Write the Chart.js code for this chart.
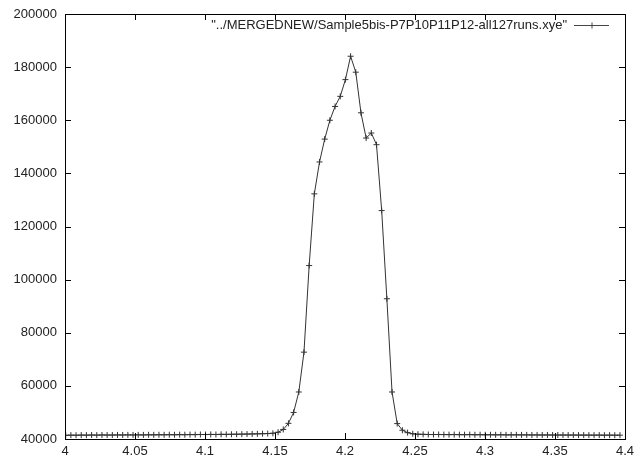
<!DOCTYPE html>
<html>
<head>
<meta charset="utf-8">
<script src="https://cdn.jsdelivr.net/npm/chart.js@4/dist/chart.umd.min.js"></script>
<style>
  html, body { margin: 0; padding: 0; background: #fff; }
  #wrap { width: 634px; height: 460px; }
</style>
</head>
<body>
<div id="wrap"><canvas id="chart-peak"></canvas></div>
<script>
const seriesName = '"../MERGEDNEW/Sample5bis-P7P10P11P12-all127runs.xye"';

// d-spacing (x)
const dValues = [
  4.0005, 4.0042, 4.0079, 4.0116, 4.0153, 4.0190, 4.0227, 4.0264, 4.0301, 4.0338,
  4.0375, 4.0412, 4.0449, 4.0486, 4.0523, 4.0560, 4.0597, 4.0634, 4.0671, 4.0708,
  4.0745, 4.0782, 4.0819, 4.0856, 4.0893, 4.0930, 4.0967, 4.1004, 4.1041, 4.1078,
  4.1115, 4.1152, 4.1189, 4.1226, 4.1263, 4.1300, 4.1337, 4.1374, 4.1411, 4.1448,
  4.1485, 4.1522, 4.1559, 4.1596, 4.1633, 4.1670, 4.1707, 4.1744, 4.1781, 4.1818,
  4.1855, 4.1892, 4.1929, 4.1966, 4.2003, 4.2040, 4.2077, 4.2114, 4.2151, 4.2188,
  4.2225, 4.2262, 4.2299, 4.2336, 4.2373, 4.2410, 4.2447, 4.2484, 4.2521, 4.2558,
  4.2595, 4.2632, 4.2669, 4.2706, 4.2743, 4.2780, 4.2817, 4.2854, 4.2891, 4.2928,
  4.2965, 4.3002, 4.3039, 4.3076, 4.3113, 4.3150, 4.3187, 4.3224, 4.3261, 4.3298,
  4.3335, 4.3372, 4.3409, 4.3446, 4.3483, 4.3520, 4.3557, 4.3594, 4.3631, 4.3668,
  4.3705, 4.3742, 4.3779, 4.3816, 4.3853, 4.3890, 4.3927, 4.3964
];

// counts (y)
const counts = [
  41400, 41450, 41420, 41480, 41450, 41500, 41470, 41520, 41490, 41500,
  41530, 41510, 41550, 41520, 41560, 41540, 41580, 41560, 41600, 41580,
  41620, 41600, 41640, 41620, 41660, 41650, 41700, 41680, 41720, 41700,
  41750, 41740, 41780, 41800, 41830, 41860, 41900, 41950, 42000, 42050,
  42150, 42550, 43600, 45900, 50000, 57700, 72700, 105300, 132300, 144300,
  152900, 160000, 165200, 169000, 175300, 184100, 178100, 162800, 153300, 155200,
  150800, 126000, 92800, 57700, 45800, 43300, 42400, 41950, 41800, 41750,
  41700, 41680, 41700, 41660, 41650, 41670, 41640, 41620, 41650, 41600,
  41620, 41590, 41600, 41570, 41580, 41560, 41550, 41570, 41540, 41550,
  41520, 41530, 41510, 41520, 41500, 41490, 41510, 41480, 41490, 41470,
  41480, 41460, 41450, 41470, 41440, 41450, 41430, 41440
];

const xTicks = [4, 4.05, 4.1, 4.15, 4.2, 4.25, 4.3, 4.35, 4.4];
const yTicks = [40000, 60000, 80000, 100000, 120000, 140000, 160000, 180000, 200000];

const points = dValues.map((d, i) => ({ x: d, y: counts[i] }));
const font = { family: "'Liberation Sans', Arial, sans-serif", size: 13 };

// gnuplot style frame, inward ticks on all four sides, key at top right
const gnuplotFrame = {
  id: 'gnuplotFrame',
  afterDraw(chart) {
    const ctx = chart.ctx;
    const a = chart.chartArea;
    const xs = chart.scales.x, ys = chart.scales.y;
    ctx.save();
    ctx.strokeStyle = '#000';
    ctx.lineWidth = 1;
    ctx.strokeRect(Math.round(a.left) + 0.5, Math.round(a.top) + 0.5,
      Math.round(a.right - a.left), Math.round(a.bottom - a.top));
    ctx.beginPath();
    xTicks.forEach(v => {
      const px = Math.round(xs.getPixelForValue(v)) + 0.5;
      ctx.moveTo(px, a.bottom); ctx.lineTo(px, a.bottom - 6);
      ctx.moveTo(px, a.top); ctx.lineTo(px, a.top + 6);
    });
    yTicks.forEach(v => {
      const py = Math.round(ys.getPixelForValue(v)) + 0.5;
      ctx.moveTo(a.left, py); ctx.lineTo(a.left + 6, py);
      ctx.moveTo(a.right, py); ctx.lineTo(a.right - 6, py);
    });
    ctx.stroke();

    // key
    const ky = 25.5;
    ctx.font = font.size + 'px ' + font.family;
    ctx.fillStyle = '#222';
    ctx.textAlign = 'right';
    ctx.textBaseline = 'middle';
    ctx.fillText(seriesName, 567, ky);
    ctx.strokeStyle = '#444';
    ctx.beginPath();
    ctx.moveTo(574, ky); ctx.lineTo(609, ky);
    ctx.moveTo(592, ky - 3); ctx.lineTo(592, ky + 3);
    ctx.stroke();
    ctx.restore();
  }
};

new Chart(document.getElementById('chart-peak'), {
  type: 'line',
  data: {
    datasets: [
      {
        label: seriesName,
        data: points,
        borderColor: '#333',
        borderWidth: 1,
        pointStyle: 'cross',
        pointRadius: 3,
        pointBorderColor: '#333',
        pointBorderWidth: 1,
        tension: 0,
      },
    ],
  },
  options: {
    responsive: true,
    maintainAspectRatio: false,
    animation: false,
    layout: { padding: { top: 14, right: 9, left: 0, bottom: 0 } },
    plugins: {
      legend: { display: false },
      tooltip: { enabled: false },
    },
    scales: {
      x: {
        type: 'linear',
        min: 4,
        max: 4.4,
        afterBuildTicks: s => { s.ticks = xTicks.map(v => ({ value: v })); },
        afterFit: s => { s.height = 21; s.paddingLeft = 0; s.paddingRight = 0; },
        grid: { display: false, drawTicks: false },
        border: { display: false },
        ticks: {
          font: font,
          color: '#222',
          padding: 5,
          maxRotation: 0,
          autoSkip: false,
          callback: v => String(parseFloat(v.toFixed(2))),
        },
      },
      y: {
        min: 40000,
        max: 200000,
        afterBuildTicks: s => { s.ticks = yTicks.map(v => ({ value: v })); },
        afterFit: s => { s.width = 65; s.paddingTop = 0; s.paddingBottom = 0; },
        grid: { display: false, drawTicks: false },
        border: { display: false },
        ticks: {
          font: font,
          color: '#222',
          padding: 8,
          callback: v => String(v),
        },
      },
    },
  },
  plugins: [gnuplotFrame],
});
</script>
</body>
</html>
